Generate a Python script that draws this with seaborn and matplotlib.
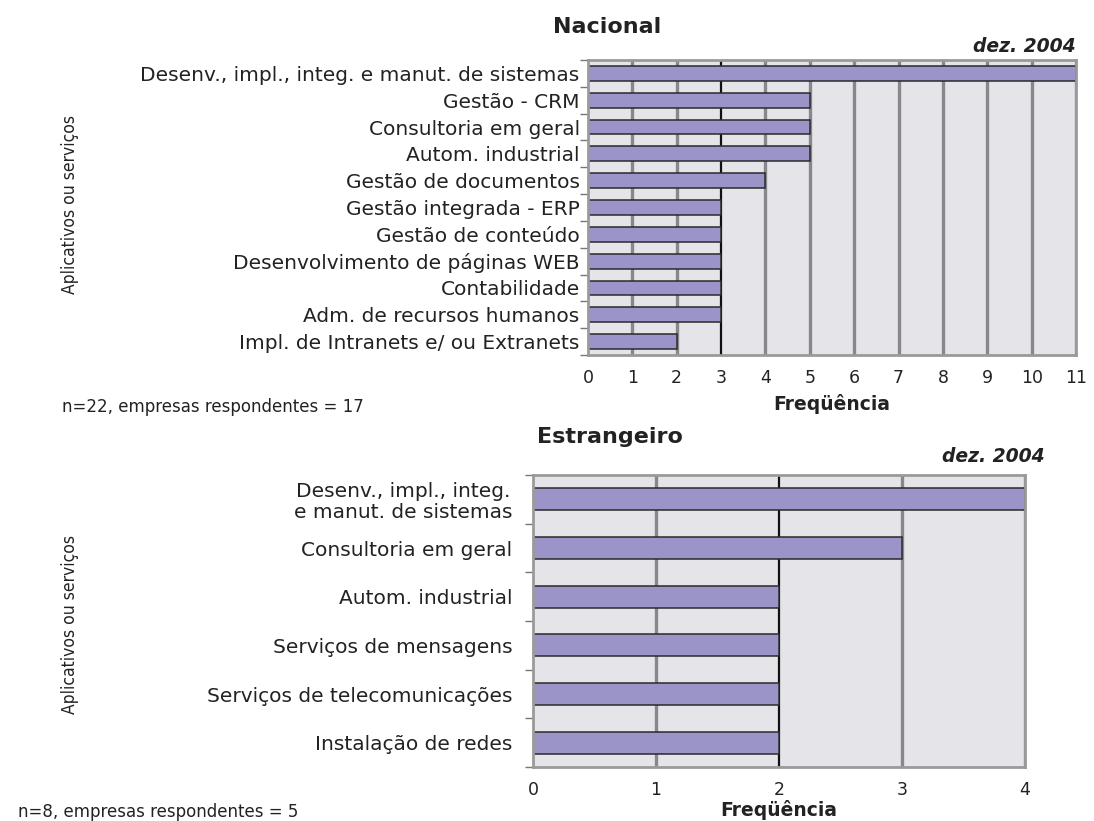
import numpy as np
import pandas as pd
import seaborn as sns
import matplotlib.pyplot as plt

# data
nac_categorias = [
    "Desenv., impl., integ. e manut. de sistemas",
    "Gestão - CRM",
    "Consultoria em geral",
    "Autom. industrial",
    "Gestão de documentos",
    "Gestão integrada - ERP",
    "Gestão de conteúdo",
    "Desenvolvimento de páginas WEB",
    "Contabilidade",
    "Adm. de recursos humanos",
    "Impl. de Intranets e/ ou Extranets",
]
nac_freq = [11, 5, 5, 5, 4, 3, 3, 3, 3, 3, 2]

est_categorias = [
    "Desenv., impl., integ.\ne manut. de sistemas",
    "Consultoria em geral",
    "Autom. industrial",
    "Serviços de mensagens",
    "Serviços de telecomunicações",
    "Instalação de redes",
]
est_freq = [4, 3, 2, 2, 2, 2]

nac_xticks = list(range(0, 12))
est_xticks = list(range(0, 5))

sns.set_theme(style="white")
plt.rcParams["font.family"] = ["DejaVu Sans"]

BAR = "#9b94c8"
BG = "#e5e5e9"
TXT = "#222222"

fig = plt.figure(figsize=(10.94, 8.21), dpi=100)


def draw_panel(ax, cats, vals, xticks, dark_at, bar_w, ypad):
    df = pd.DataFrame({"cat": cats, "freq": vals})
    ax.set_facecolor(BG)
    for x in xticks[1:]:
        ax.axvline(x, color="#111111" if x == dark_at else "#88888c",
                   lw=1.6 if x == dark_at else 2.4, zorder=0)
    sns.barplot(data=df, x="freq", y="cat", orient="h", color=BAR, width=bar_w,
                edgecolor="#2a2a2a", linewidth=1.1, saturation=1, ax=ax, zorder=2)
    ax.set_xlim(0, xticks[-1])
    ax.set_ylim(len(cats) - 0.5, -0.5)
    ax.set_xticks(xticks)
    ax.set_xticklabels([str(t) for t in xticks], fontsize=12.5, color=TXT)
    ax.tick_params(axis="x", length=3, color="#888888", pad=7)
    ax.set_yticks(np.arange(len(cats)))
    ax.set_yticklabels(cats, fontsize=14.5, color=TXT, linespacing=1.1)
    for lab in ax.get_yticklabels():
        lab.set_multialignment("center")
    ax.set_yticks(np.arange(-0.5, len(cats)), minor=True)
    ax.tick_params(axis="y", which="major", length=0, pad=ypad)
    ax.tick_params(axis="y", which="minor", length=6, color="#777777", width=1, left=True)
    for s in ax.spines.values():
        s.set_color("#9a9a9a")
        s.set_linewidth(2)
    ax.set_ylabel("")


# Nacional
ax1 = fig.add_axes([588 / 1094, 1 - 355 / 821, 488 / 1094, 295 / 821])
draw_panel(ax1, nac_categorias, nac_freq, nac_xticks, 3, 0.55, 6)
ax1.set_xlabel("Freqüência", fontsize=13.5, fontweight="bold", color=TXT, labelpad=5)
fig.text(607 / 1094, 1 - 27 / 821, "Nacional", ha="center", va="center",
         fontsize=16, fontweight="bold", color=TXT)
fig.text(1076 / 1094, 1 - 47 / 821, "dez. 2004", ha="right", va="center",
         fontsize=13.5, fontweight="bold", style="italic", color=TXT)
fig.text(62 / 1094, 1 - 407 / 821, "n=22, empresas respondentes = 17", ha="left",
         va="center", fontsize=12, color=TXT)
fig.text(70 / 1094, 1 - 205 / 821, "Aplicativos ou serviços", rotation=90, ha="center",
         va="center", fontsize=12.5, fontstretch="condensed", color=TXT)

# Estrangeiro
ax2 = fig.add_axes([533 / 1094, 1 - 767 / 821, 492 / 1094, 292 / 821])
draw_panel(ax2, est_categorias, est_freq, est_xticks, 2, 0.45, 15)
ax2.set_xlabel("Freqüência", fontsize=13.5, fontweight="bold", color=TXT, labelpad=1)
fig.text(610 / 1094, 1 - 437 / 821, "Estrangeiro", ha="center", va="center",
         fontsize=16, fontweight="bold", color=TXT)
fig.text(1045 / 1094, 1 - 456 / 821, "dez. 2004", ha="right", va="center",
         fontsize=13.5, fontweight="bold", style="italic", color=TXT)
fig.text(18 / 1094, 1 - 812 / 821, "n=8, empresas respondentes = 5", ha="left",
         va="center", fontsize=12, color=TXT)
fig.text(70 / 1094, 1 - 625 / 821, "Aplicativos ou serviços", rotation=90, ha="center",
         va="center", fontsize=12.5, fontstretch="condensed", color=TXT)

fig.savefig("out.png", dpi=100, facecolor="white")
